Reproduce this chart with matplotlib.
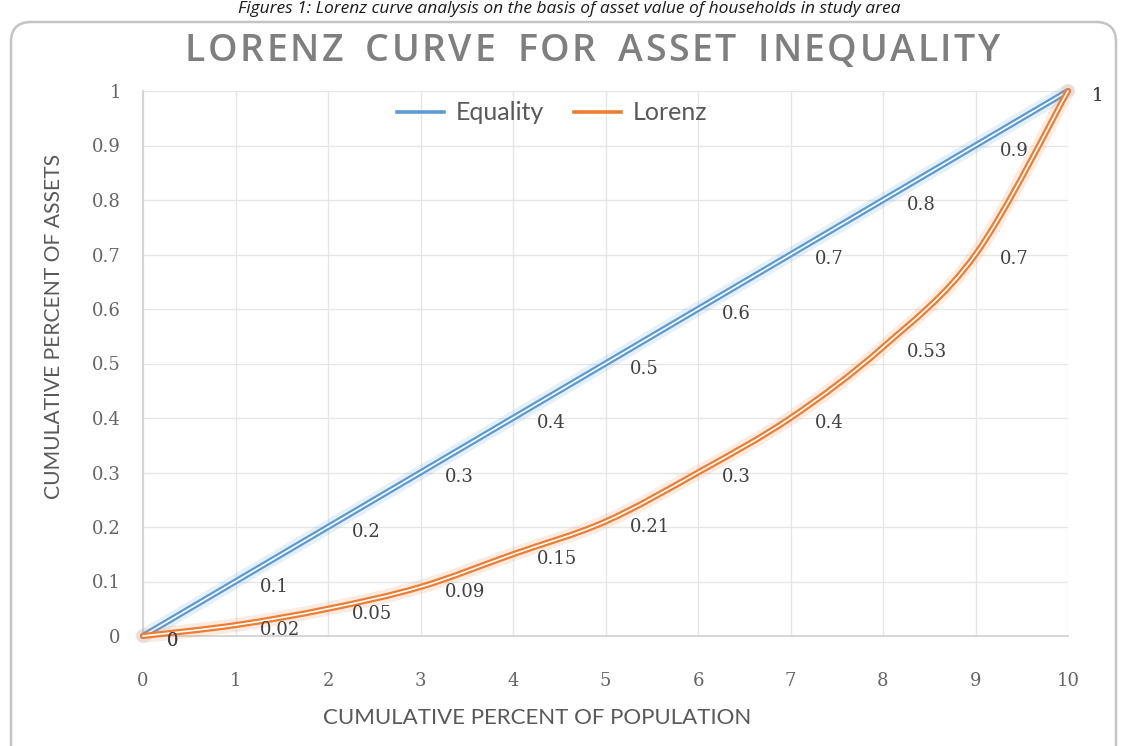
import numpy as np
import matplotlib
matplotlib.use('Agg')
import matplotlib.pyplot as plt
from matplotlib.path import Path
from matplotlib.patches import PathPatch, FancyBboxPatch
from matplotlib.lines import Line2D
from matplotlib.transforms import IdentityTransform
import matplotlib.patheffects as pe

# ---------------- data ----------------
population = [0, 1, 2, 3, 4, 5, 6, 7, 8, 9, 10]
equality = [0, 0.1, 0.2, 0.3, 0.4, 0.5, 0.6, 0.7, 0.8, 0.9, 1]
lorenz = [0, 0.02, 0.05, 0.09, 0.15, 0.21, 0.3, 0.4, 0.53, 0.7, 1]
x_ticks = [0, 1, 2, 3, 4, 5, 6, 7, 8, 9, 10]
y_ticks = [0, 0.1, 0.2, 0.3, 0.4, 0.5, 0.6, 0.7, 0.8, 0.9, 1]
y_tick_labels = ['0', '0.1', '0.2', '0.3', '0.4', '0.5', '0.6', '0.7', '0.8', '0.9', '1']
series_names = ['Equality', 'Lorenz']
series_colors = ['#5B9BD5', '#ED7D31']
title_text = "LORENZ CURVE FOR ASSET INEQUALITY"
x_title = "CUMULATIVE PERCENT OF POPULATION"
y_title = "CUMULATIVE PERCENT OF ASSETS"
caption = "Figures 1: Lorenz curve analysis on the basis of asset value of households in study area"

W, H = 1123, 746
fig = plt.figure(figsize=(W / 100, H / 100), dpi=100)
fig.patch.set_facecolor('white')


def fx(x):
    return x / W


def fy(y):
    return 1 - y / H


# chart frame (rounded)
frame = FancyBboxPatch((11, -30), 1105, H - 22 + 30,
                       boxstyle='round,pad=0,rounding_size=20',
                       transform=IdentityTransform(), facecolor='white',
                       edgecolor='#C4C4C4', linewidth=1.8, zorder=-5)
fig.add_artist(frame)

# caption at the very top
fig.text(fx(569), fy(1), caption, ha='center', va='top', fontsize=12.5,
         style='italic', family='Open Sans', color='#1a1a1a')

# axes
ax = fig.add_axes([fx(143), fy(636), fx(1068) - fx(143), (636 - 91) / H])
ax.set_facecolor('none')
ax.set_xlim(0, 10)
ax.set_ylim(0, 1)
ax.set_xticks(x_ticks)
ax.set_xticklabels([str(v) for v in x_ticks])
ax.set_yticks(y_ticks)
ax.set_yticklabels(y_tick_labels)
ax.tick_params(axis='both', length=0, labelsize=13, labelcolor='#656565')
ax.tick_params(axis='x', pad=26)
ax.tick_params(axis='y', pad=16)
for lbl in ax.get_xticklabels() + ax.get_yticklabels():
    lbl.set_family('DejaVu Serif')
ax.grid(True, color='#E6E6E6', linewidth=1.0)
ax.set_axisbelow(True)
for s in ['top', 'right']:
    ax.spines[s].set_visible(False)
for s in ['left', 'bottom']:
    ax.spines[s].set_color('#D0D0D0')
    ax.spines[s].set_linewidth(1.2)


def smooth_path(xs, ys):
    pts = np.column_stack([xs, ys]).astype(float)
    n = len(pts)
    verts = [pts[0]]
    codes = [Path.MOVETO]
    for i in range(n - 1):
        p0 = pts[i - 1] if i > 0 else pts[i]
        p1 = pts[i]
        p2 = pts[i + 1]
        p3 = pts[i + 2] if i + 2 < n else pts[i + 1]
        c1 = p1 + (p2 - p0) / 6.0
        c2 = p2 - (p3 - p1) / 6.0
        verts += [c1, c2, p2]
        codes += [Path.CURVE4] * 3
    return Path(verts, codes)


def double_effects(color):
    return [pe.Stroke(linewidth=10, foreground=color, alpha=0.15),
            pe.Stroke(linewidth=4.4, foreground=color),
            pe.Normal()]


handles = []
for name, ys, col in zip(series_names, [equality, lorenz], series_colors):
    patch = PathPatch(smooth_path(population, ys), fill=False, edgecolor='white',
                      linewidth=1.2, path_effects=double_effects(col),
                      capstyle='round', joinstyle='round', clip_on=False, zorder=3)
    ax.add_patch(patch)
    handles.append(Line2D([], [], color=col, linewidth=2.6))
    for x, y in zip(population, ys):
        ax.annotate(f"{y:g}", (x, y), xytext=(24, -5), textcoords='offset pixels',
                    ha='left', va='center', fontsize=13, family='DejaVu Serif',
                    color='#404040', zorder=4, annotation_clip=False)

leg = ax.legend(handles, series_names, loc='center', bbox_to_anchor=(fx(552), fy(113)),
                bbox_transform=fig.transFigure, ncol=2, frameon=False,
                prop={'family': 'Lato', 'size': 18}, labelcolor='#595959',
                handlelength=1.9, handletextpad=0.45, columnspacing=1.2)

# axis titles
fig.text(fx(537), fy(718), x_title, ha='center', va='center', fontsize=16,
         family='Lato', color='#595959')
fig.text(fx(54), fy(326), y_title, ha='center', va='center', fontsize=15.2,
         family='Lato', color='#595959', rotation=90)

# chart title, letter-spaced, placed char by char
renderer = fig.canvas.get_renderer()
fs_title = 27
widths = []
for ch in title_text:
    if ch == ' ':
        widths.append(0.0)
        continue
    t = fig.text(0, 0, ch, fontsize=fs_title, family='Open Sans', fontweight='semibold')
    widths.append(t.get_window_extent(renderer).width)
    t.remove()
word_gap = 22.0
n_spaces = title_text.count(' ')
pairs = sum(len(w) - 1 for w in title_text.split(' '))
target_left, target_right = 185.0, 1000.0
spacing = (target_right - target_left - sum(widths) - n_spaces * word_gap) / pairs
xpos = target_left
prev_space = False
for i, ch in enumerate(title_text):
    if ch == ' ':
        xpos += word_gap
        prev_space = True
        continue
    if i > 0 and not prev_space:
        xpos += spacing
    fig.text(fx(xpos), fy(61), ch, ha='left', va='baseline', fontsize=fs_title,
             family='Open Sans', fontweight='semibold', color='#7F7F7F')
    xpos += widths[i]
    prev_space = False

fig.savefig('out.png', dpi=100, facecolor='white')
